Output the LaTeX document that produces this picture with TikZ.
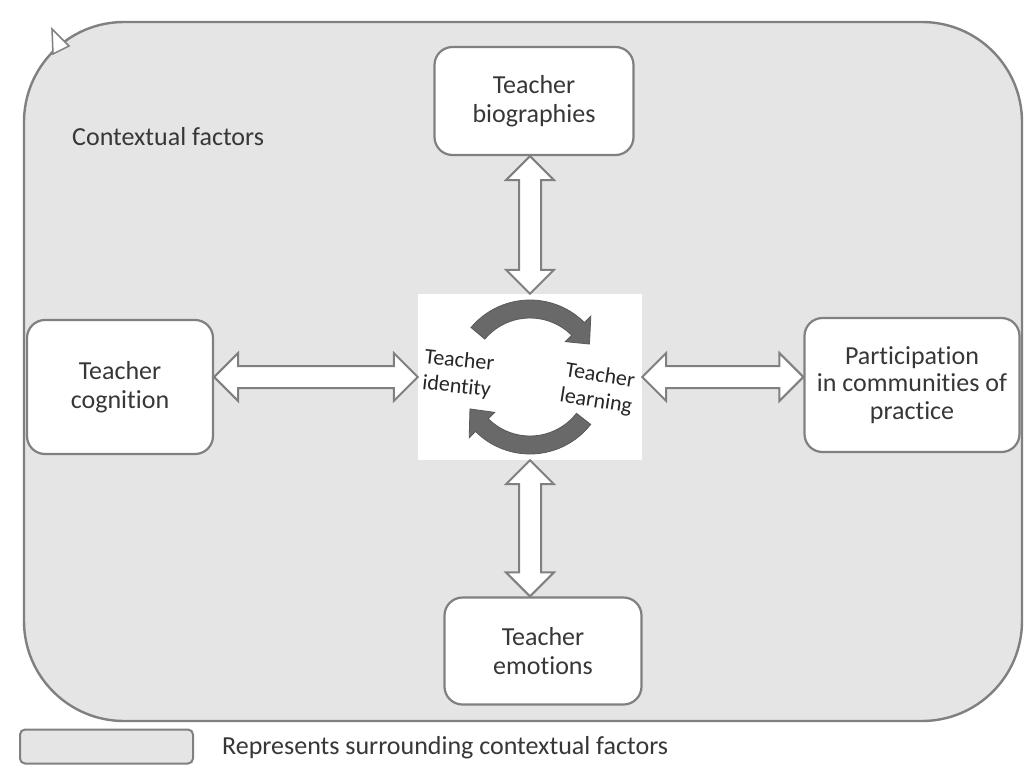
\documentclass[tikz,border=0pt]{standalone}
\usepackage{fontspec}
\setmainfont{Carlito}[Ligatures=NoCommon]
\usetikzlibrary{calc}
\definecolor{ctx}{RGB}{229,229,229}
\definecolor{edge}{RGB}{128,128,128}
\definecolor{dark}{RGB}{105,105,105}
\definecolor{txt}{RGB}{55,55,55}
\newcommand\vdarrow[2]{\draw[dbl] (#1) -- ++(24,-24) -- ++(-13,0) -- ($(#2)+(11,24)$) -- ++(13,0) -- (#2) -- ++(-24,24) -- ++(13,0) -- ($(#1)+(-11,-24)$) -- ++(-13,0) -- cycle;}
\newcommand\hdarrow[2]{\draw[dbl] (#1) -- ++(24,24) -- ++(0,-13) -- ($(#2)+(-24,11)$) -- ++(0,13) -- (#2) -- ++(-24,-24) -- ++(0,13) -- ($(#1)+(24,-11)$) -- ++(0,-13) -- cycle;}
\begin{document}
\begin{tikzpicture}[x=1pt,y=1pt,
  box/.style={draw=edge, line width=2.2pt, fill=white, rounded corners=18pt, align=center,
    font=\fontsize{26}{29}\selectfont, text=txt, inner sep=0pt},
  dbl/.style={draw=edge, line width=2pt, fill=white, line join=miter},
  band/.style={fill=dark, draw=dark!85!black, line width=0.8pt},
  lbl/.style={font=\fontsize{26}{30}\selectfont, text=txt, inner sep=0pt},
  inner/.style={font=\fontsize{22}{26}\selectfont, text=black!85, align=center, inner sep=0pt}]
\useasboundingbox (0,0) rectangle (1026,-766);
\fill[white] (0,0) rectangle (1026,-766);
% surrounding context
\node[draw=edge, line width=2.4pt, fill=ctx, rounded corners=100pt, minimum width=998pt,
  minimum height=699pt, inner sep=0pt] (ctx) at (523,-371.5) {};
\draw[edge, line width=1.5pt, fill=white] (52,-29) -- (53,-54) -- (69,-46) -- cycle;
\node[lbl, anchor=west] (ctxlabel) at (72,-137) {Contextual factors};
% boxes
\node[box, minimum width=199pt, minimum height=108pt] (bio) at (534,-101) {Teacher\\biographies};
\node[box, minimum width=186pt, minimum height=134pt] (cog) at (120,-387) {Teacher\\cognition};
\node[box, minimum width=215pt, minimum height=134pt, font=\fontsize{26}{27.5}\selectfont] (part) at (912,-385) {Participation\\in communities of\\practice};
\node[box, minimum width=197pt, minimum height=107pt] (emo) at (543,-651) {Teacher\\emotions};
\node[fill=white, minimum width=224pt, minimum height=166pt, inner sep=0pt] (ctr) at (530,-377) {};
% double arrows
\coordinate (topA) at (ctr.north |- bio.south);
\vdarrow{topA}{ctr.north}
\coordinate (botB) at (emo.north -| ctr.south);
\vdarrow{ctr.south}{botB}
\coordinate (leftA) at (cog.east |- ctr.west);
\hdarrow{leftA}{ctr.west}
\coordinate (rightB) at (part.west |- ctr.east);
\hdarrow{ctr.east}{rightB}
% circular arrows
\coordinate (C) at (ctr.center);
\fill[band] ($(C)+(140:77)$) arc[start angle=140, end angle=45, radius=77]
  -- ($(C)+(45:86)$) -- ($(C)+(29:68)$) -- ($(C)+(45:50)$) -- ($(C)+(45:59)$)
  arc[start angle=45, end angle=140, radius=59] -- cycle;
\fill[band] ($(C)+(-38:77)$) arc[start angle=-38, end angle=-135, radius=77]
  -- ($(C)+(-135:86)$) -- ($(C)+(-152:68)$) -- ($(C)+(-135:50)$) -- ($(C)+(-135:59)$)
  arc[start angle=-135, end angle=-38, radius=59] -- cycle;
\node[inner, rotate=-6] (tid) at (458,-374) {Teacher\\identity};
\node[inner, rotate=-9] (tlr) at (598,-389) {Teacher\\learning};
% legend
\node[draw=edge, line width=2pt, fill=ctx, rounded corners=5pt, minimum width=173pt,
  minimum height=34pt, inner sep=0pt] (leg) at (106.5,-746.5) {};
\node[lbl, anchor=west] (legtxt) at (222,-748) {Represents surrounding contextual factors};
\end{tikzpicture}
\end{document}
